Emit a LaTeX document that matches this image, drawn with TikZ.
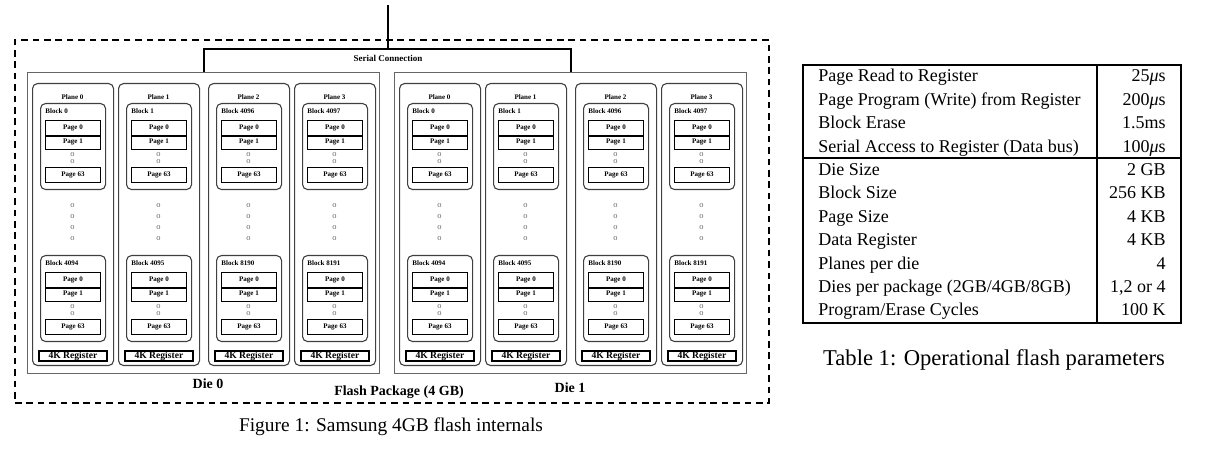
\documentclass[tikz,border=0pt]{standalone}
\usepackage{fontspec}
\setmainfont{Liberation Serif}
\begin{document}
\begin{tikzpicture}[x=0.5pt,y=-0.5pt,
  pkgbox/.style={draw, line width=1pt, dash pattern=on 3.3pt off 2.4pt, anchor=north west, inner sep=0, minimum width=377pt, minimum height=181.5pt},
  diebox/.style={draw=black!60, line width=0.5pt, anchor=north west, inner sep=0, minimum width=176pt, minimum height=150.5pt},
  planebox/.style={draw=black!75, line width=0.55pt, rounded corners=2.5pt, anchor=north west, inner sep=0, minimum width=40.5pt, minimum height=141pt},
  blockbox/.style={draw=black!75, line width=0.55pt, rounded corners=2.5pt, anchor=north west, inner sep=0, minimum width=32.5pt, minimum height=43pt},
  pagebox/.style={draw, line width=0.45pt, anchor=north west, inner sep=0, minimum width=27.5pt, font=\bfseries\fontsize{3.5}{4}\selectfont},
  regbox/.style={draw, line width=0.9pt, anchor=north west, inner sep=0, minimum width=34pt, minimum height=5pt, font=\bfseries\fontsize{4.8}{5}\selectfont},
  tinylbl/.style={inner sep=0, font=\bfseries\fontsize{3.5}{4}\selectfont},
  odot/.style={inner sep=0, text=black!60, font=\fontsize{4.2}{4}\selectfont},
  wire/.style={line width=1pt},
  pgsep/.style={line width=0.9pt},
  biglbl/.style={inner sep=0, anchor=base, font=\bfseries\fontsize{7}{8}\selectfont},
  tline/.style={line width=0.9pt},
  ttext/.style={inner sep=0, anchor=base west, font=\fontsize{9}{11}\selectfont},
  tval/.style={inner sep=0, anchor=base east, font=\fontsize{9}{11}\selectfont},
]
\useasboundingbox (0,0) rectangle (1205,458);

% package
\node[pkgbox] (pkg) at (14,39) {};

\foreach \d/\dx in {0/0,1/367}{
  \node[diebox] (die\d) at (27+\dx,72) {};
  \foreach \p/\px/\ta/\tb in {0/5/0/4094, 1/91/1/4095, 2/181/4096/8190, 3/267/4097/8191}{
    \pgfmathsetmacro\X{27+\dx+\px}
    \node[planebox] (pl\d\p) at (\X,83) {};
    \node[tinylbl, anchor=base] (pll\d\p) at (\X+40.5,99.3) {Plane \p};
    \foreach \r/\yo/\bn in {0/0/\ta, 1/152/\tb}{
      \node[blockbox] (bk\d\p\r) at (\X+8,103+\yo) {};
      \node[tinylbl, anchor=base west] (bkl\d\p\r) at (\X+13,113.3+\yo) {Block \bn};
      \node[pagebox, minimum height=7.5pt] (pa\d\p\r) at (\X+13,120+\yo) {Page 0};
      \node[pagebox, minimum height=7pt] (pb\d\p\r) at (\X+13,135+\yo) {Page 1};
      \draw[pgsep] (pa\d\p\r.south west) -- (pa\d\p\r.south east);
      \node[odot] (oa\d\p\r) at (\X+40.5,155+\yo) {o};
      \node[odot] (ob\d\p\r) at (\X+40.5,162+\yo) {o};
      \node[pagebox, minimum height=7.5pt] (pc\d\p\r) at (\X+13,167+\yo) {Page 63};
    }
    \foreach \yy/\k in {206/1,217/2,228/3,239/4}{
      \node[odot] (md\d\p\k) at (\X+40.5,\yy) {o};
    }
    \node[regbox] (rg\d\p) at (\X+6,350) {4K Register};
  }
}

% serial connection
\coordinate (wtop) at (388,5);
\coordinate (wj) at (388,49);
\draw[wire] (die0.north) |- (wj) -| (die1.north);
\draw[wire] (wtop) -- (wj);
\node[inner sep=0, anchor=base, font=\bfseries\fontsize{4.5}{5}\selectfont] (serl) at (388,62) {Serial Connection};

% labels
\node[biglbl] (d0l) at (208,388.6) {Die 0};
\node[biglbl] (d1l) at (570,392.6) {Die 1};
\node[biglbl] (pkl) at (399,395.6) {Flash Package (4 GB)};
\node[inner sep=0, anchor=base, font=\fontsize{9.7}{11}\selectfont] (figcap) at (391,432) {Figure 1: Samsung 4GB flash internals};

% table
\coordinate (tnw) at (803,65);
\coordinate (tse) at (1181,323);
\coordinate (tct) at (1097,65);
\coordinate (tcb) at (1097,323);
\coordinate (tsl) at (803,158);
\coordinate (tsr) at (1181,158);
\draw[tline] (tnw) rectangle (tse);
\draw[tline] (tct) -- (tcb);
\draw[tline] (tsl) -- (tsr);

\node[ttext] (r0) at (818,82) {Page Read to Register};
\node[tval] (v0) at (1166,82) {25\textit{μ}s};
\node[ttext] (r1) at (818,105.4) {Page Program (Write) from Register};
\node[tval] (v1) at (1166,105.4) {200\textit{μ}s};
\node[ttext] (r2) at (818,128.8) {Block Erase};
\node[tval] (v2) at (1166,128.8) {1.5ms};
\node[ttext] (r3) at (818,152.2) {Serial Access to Register (Data bus)};
\node[tval] (v3) at (1166,152.2) {100\textit{μ}s};
\node[ttext] (r4) at (818,175.6) {Die Size};
\node[tval] (v4) at (1166,175.6) {2 GB};
\node[ttext] (r5) at (818,199) {Block Size};
\node[tval] (v5) at (1166,199) {256 KB};
\node[ttext] (r6) at (818,222.4) {Page Size};
\node[tval] (v6) at (1166,222.4) {4 KB};
\node[ttext] (r7) at (818,245.8) {Data Register};
\node[tval] (v7) at (1166,245.8) {4 KB};
\node[ttext] (r8) at (818,269.2) {Planes per die};
\node[tval] (v8) at (1166,269.2) {4};
\node[ttext] (r9) at (818,292.6) {Dies per package (2GB/4GB/8GB)};
\node[tval] (v9) at (1166,292.6) {1,2 or 4};
\node[ttext] (r10) at (818,316) {Program/Erase Cycles};
\node[tval] (v10) at (1166,316) {100 K};

\node[inner sep=0, anchor=base, font=\fontsize{11.3}{13}\selectfont] (tcap) at (994,366) {Table 1: Operational flash parameters};
\end{tikzpicture}
\end{document}
